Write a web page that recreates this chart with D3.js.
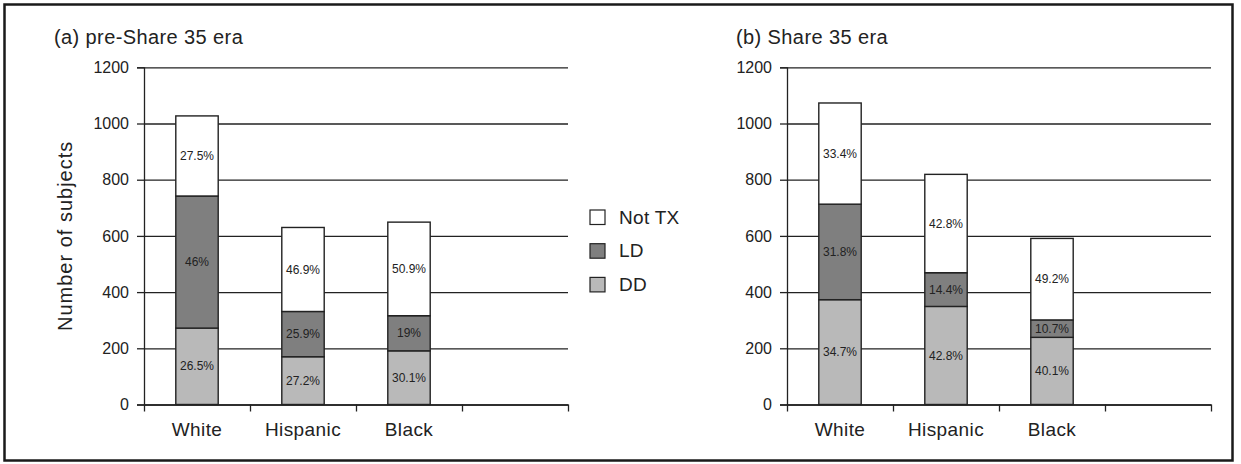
<html>

<head>
    <style>
        body {
            margin: 0;
            background: white;
            font-family: "Liberation Sans", Arial, Helvetica, sans-serif;
        }
    </style>
    <script src="https://cdn.jsdelivr.net/npm/d3@7"></script>
</head>

<body>
    <svg id="chart"></svg>
    <script>
    /* Data */
    let categories = ["White", "Hispanic", "Black"]
    let seriesKeys = ["DD", "LD", "Not TX"]
    let yTicks = [0, 200, 400, 600, 800, 1000, 1200]

    // (a) pre-Share 35 era, number of subjects
    let preDD = [272, 170, 191]
    let preLD = [470, 161, 125]
    let preNotTX = [285, 299, 333]
    let prePct = {
        "DD": ["26.5%", "27.2%", "30.1%"],
        "LD": ["46%", "25.9%", "19%"],
        "Not TX": ["27.5%", "46.9%", "50.9%"]
    }

    // (b) Share 35 era
    let shareDD = [373, 349, 239]
    let shareLD = [340, 120, 62]
    let shareNotTX = [360, 350, 290]
    let sharePct = {
        "DD": ["34.7%", "42.8%", "40.1%"],
        "LD": ["31.8%", "14.4%", "10.7%"],
        "Not TX": ["33.4%", "42.8%", "49.2%"]
    }

    let colors = { "DD": "#b9b9b9", "LD": "#7f7f7f", "Not TX": "#ffffff" }
    let ink = "#222"

    let svg = d3.select("#chart")
        .attr("width", 1241)
        .attr("height", 464)

    // outer frame
    svg.append("rect")
        .attr("x", 4.5).attr("y", 4.5)
        .attr("width", 1228).attr("height", 456)
        .attr("fill", "none")
        .attr("stroke", "#1a1a1a")
        .attr("stroke-width", 2.5)

    function buildRows(dd, ld, nottx) {
        return categories.map((c, i) => ({ cat: c, "DD": dd[i], "LD": ld[i], "Not TX": nottx[i] }))
    }

    function drawPanel(cfg) {
        let { left, top, bottom, width, title, titleX, rows, pct } = cfg
        let g = svg.append("g").attr("transform", `translate(${left},0)`)

        let y = d3.scaleLinear().domain([0, 1200]).range([bottom, top])
        // 4 slots, last one stays empty like the original
        let x = d3.scaleBand().domain(categories.concat([" "])).range([0, width]).padding(0)
        let xEdges = d3.scaleLinear().domain([0, 4]).range([0, width])
        let barW = x.bandwidth() * 0.4

        // gridlines
        g.append("g")
            .call(d3.axisLeft(y).tickValues(yTicks).tickSize(-width).tickFormat(""))
            .call(a => a.select(".domain").remove())
            .selectAll("line")
            .attr("stroke", ink).attr("stroke-width", 1.3)

        // bars
        let stacked = d3.stack().keys(seriesKeys)(rows)
        stacked.forEach(layer => {
            let key = layer.key
            let seg = g.append("g")
            seg.selectAll("rect")
                .data(layer)
                .enter().append("rect")
                .attr("x", d => x(d.data.cat) + (x.bandwidth() - barW) / 2)
                .attr("y", d => y(d[1]))
                .attr("width", barW)
                .attr("height", d => y(d[0]) - y(d[1]))
                .attr("fill", colors[key])
                .attr("stroke", ink)
                .attr("stroke-width", 1.4)
            seg.selectAll("text")
                .data(layer)
                .enter().append("text")
                .attr("x", d => x(d.data.cat) + x.bandwidth() / 2)
                .attr("y", d => (y(d[0]) + y(d[1])) / 2)
                .attr("dy", "0.35em")
                .attr("text-anchor", "middle")
                .attr("font-size", 12)
                .attr("fill", ink)
                .text((d, i) => pct[key][i])
        })

        // y axis
        let yAxis = g.append("g")
            .call(d3.axisLeft(y).tickValues(yTicks).tickSize(7).tickPadding(8).tickFormat(d3.format("d")))
        yAxis.select(".domain").attr("stroke", ink).attr("stroke-width", 1.3)
        yAxis.selectAll("line").attr("stroke", ink).attr("stroke-width", 1.3)
        yAxis.selectAll("text").attr("font-size", 16).attr("fill", ink)
            .attr("font-family", "Liberation Sans, Arial, sans-serif")

        // x axis: ticks between categories
        let xAxis = g.append("g")
            .attr("transform", `translate(0,${bottom})`)
            .call(d3.axisBottom(xEdges).tickValues([0, 1, 2, 3, 4]).tickSize(7).tickSizeOuter(0).tickFormat(""))
        xAxis.select(".domain").attr("stroke", ink).attr("stroke-width", 1.3)
        xAxis.selectAll("line").attr("stroke", ink).attr("stroke-width", 1.3)

        // category names
        g.append("g")
            .attr("transform", `translate(0,${bottom})`)
            .call(d3.axisBottom(x).tickSize(0).tickPadding(18).tickFormat(d => d.trim()))
            .call(a => a.select(".domain").remove())
            .selectAll("text")
            .attr("font-size", 19)
            .attr("letter-spacing", 0.4)
            .attr("fill", ink)
            .attr("font-family", "Liberation Sans, Arial, sans-serif")

        svg.append("text")
            .attr("x", titleX).attr("y", 44)
            .attr("font-size", 20)
            .attr("letter-spacing", 0.4)
            .attr("fill", ink)
            .text(title)

        return y
    }

    let yA = drawPanel({
        left: 144, top: 67.3, bottom: 404.5, width: 424,
        title: "(a) pre-Share 35 era", titleX: 54,
        rows: buildRows(preDD, preLD, preNotTX), pct: prePct
    })

    drawPanel({
        left: 787, top: 67.3, bottom: 404.5, width: 424,
        title: "(b) Share 35 era", titleX: 736,
        rows: buildRows(shareDD, shareLD, shareNotTX), pct: sharePct
    })

    // y label (left panel only)
    svg.append("text")
        .attr("transform", `translate(72,${(67.3 + 404.5) / 2}) rotate(-90)`)
        .attr("text-anchor", "middle")
        .attr("font-size", 20)
        .attr("letter-spacing", 1)
        .attr("fill", ink)
        .text("Number of subjects")

    // legend
    let legendKeys = ["Not TX", "LD", "DD"]
    let legend = svg.append("g").attr("transform", "translate(590,210)")
    let item = legend.selectAll("g")
        .data(legendKeys)
        .enter().append("g")
        .attr("transform", (d, i) => `translate(0,${i * 33.7})`)
    item.append("rect")
        .attr("width", 15).attr("height", 14.5)
        .attr("fill", d => colors[d])
        .attr("stroke", ink).attr("stroke-width", 1.2)
    item.append("text")
        .attr("x", 29).attr("y", 13.5)
        .attr("font-size", 19)
        .attr("letter-spacing", 0.3)
        .attr("fill", ink)
        .text(d => d)
    </script>
</body>

</html>
